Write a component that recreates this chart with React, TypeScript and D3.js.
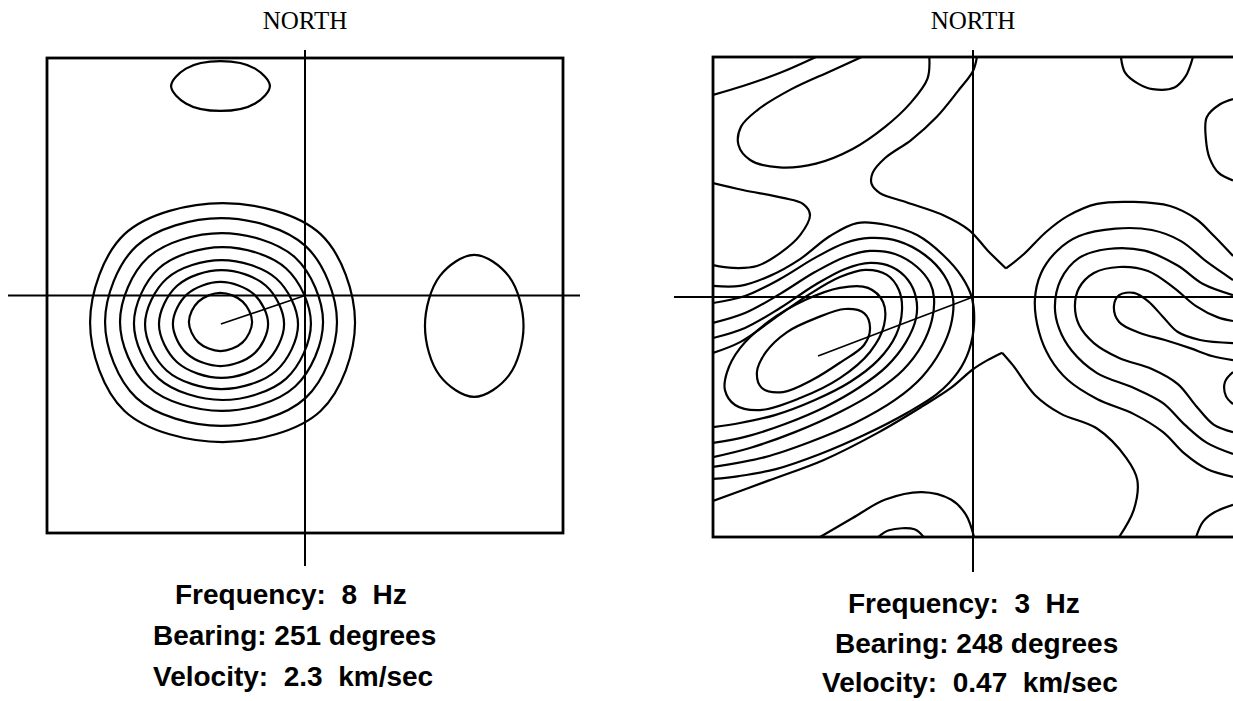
import React from 'react';
import * as d3 from 'd3';

type Pt = [number, number];

// ---- left spectrum (8 Hz) : normalised wavenumber, kx east, ky north ----
// nested rings around the main peak, inner -> outer
const leftRingWest = [-0.45, -0.512, -0.566, -0.62, -0.663, -0.717, -0.775, -0.833];
const leftRingEast = [-0.205, -0.143, -0.081, -0.027, 0.023, 0.07, 0.124, 0.194];
const leftRingNorth = [0.011, 0.057, 0.107, 0.149, 0.204, 0.263, 0.326, 0.389];
const leftRingSouth = [-0.234, -0.297, -0.347, -0.394, -0.44, -0.486, -0.549, -0.617];
// how square each ring is on its diagonals (0.71 = ellipse)
const leftRingSquareness = [0.7, 0.705, 0.71, 0.715, 0.72, 0.725, 0.73, 0.74];
// isolated side lobes: [west, east, north, south]
const leftNorthLobe = [-0.519, -0.136, 0.987, 0.777];
const leftEastLobe = [0.465, 0.847, 0.171, -0.427];
const leftPeak: Pt = [-0.326, -0.12];

// ---- right spectrum (3 Hz) ----
const rightPeak: Pt = [-0.596, -0.246];

const rightCorner: Pt[] = [[-1, 0.842], [-0.885, 0.879], [-0.744, 0.933], [-0.604, 1]];
const rightUpperLobe: Pt[] = [
  [-0.428, 1], [-0.548, 0.941], [-0.702, 0.864], [-0.829, 0.779], [-0.892, 0.71], [-0.902, 0.633],
  [-0.857, 0.571], [-0.744, 0.54], [-0.604, 0.556], [-0.463, 0.617], [-0.337, 0.71], [-0.239, 0.81],
  [-0.175, 0.91], [-0.168, 1],
];
const rightWestLobe: Pt[] = [
  [-1, 0.475], [-0.885, 0.446], [-0.731, 0.413], [-0.654, 0.388], [-0.627, 0.342], [-0.665, 0.258],
  [-0.742, 0.183], [-0.831, 0.129], [-0.923, 0.121], [-1, 0.133],
];
// lowest level: north branch (ends in the saddle notch) and its east continuation
const rightOuterNorthWest: Pt[] = [
  [0.015, 1], [0, 0.942], [-0.058, 0.858], [-0.14, 0.75], [-0.238, 0.654], [-0.338, 0.579],
  [-0.386, 0.517], [-0.39, 0.471], [-0.358, 0.433], [-0.254, 0.394], [-0.112, 0.34], [-0.015, 0.279],
  [0.058, 0.192], [0.127, 0.119],
];
const rightOuterNorthEast: Pt[] = [
  [0.127, 0.119], [0.196, 0.179], [0.281, 0.271], [0.365, 0.338], [0.477, 0.388],
  [0.619, 0.396], [0.758, 0.379], [0.858, 0.325], [0.927, 0.254], [1, 0.171],
];
const rightOuterSouthWest: Pt[] = [
  [-1, -0.85], [-0.787, -0.765], [-0.576, -0.68], [-0.365, -0.565], [-0.197, -0.457], [-0.085, -0.379],
  [0, -0.301], [0.056, -0.263], [0.112, -0.232],
];
const rightOuterSouthEast: Pt[] = [
  [0.112, -0.232], [0.154, -0.285], [0.238, -0.408], [0.337, -0.486],
  [0.477, -0.548], [0.59, -0.671], [0.632, -0.763], [0.618, -0.888], [0.562, -1],
];
const rightMainRing1: Pt[] = [
  [-1, 0.046], [-0.896, 0.046], [-0.781, 0.088], [-0.665, 0.158], [-0.55, 0.254], [-0.446, 0.308],
  [-0.331, 0.3], [-0.215, 0.258], [-0.115, 0.175], [-0.042, 0.083], [-0.004, -0.004], [0.004, -0.113],
  [-0.015, -0.221], [-0.058, -0.313], [-0.138, -0.404], [-0.254, -0.483], [-0.419, -0.575],
  [-0.588, -0.654], [-0.758, -0.717], [-0.9, -0.746], [-1, -0.758],
];
const rightMainRing2: Pt[] = [
  [-1, -0.025], [-0.877, 0.004], [-0.742, 0.075], [-0.608, 0.163], [-0.492, 0.225], [-0.396, 0.246],
  [-0.288, 0.233], [-0.185, 0.175], [-0.112, 0.092], [-0.077, -0.004], [-0.085, -0.117], [-0.123, -0.221],
  [-0.196, -0.333], [-0.3, -0.429], [-0.454, -0.525], [-0.627, -0.604], [-0.8, -0.667], [-1, -0.708],
];
const rightMainRing3: Pt[] = [
  [-1, -0.108], [-0.877, -0.067], [-0.742, 0.013], [-0.608, 0.104], [-0.492, 0.167], [-0.396, 0.192],
  [-0.3, 0.179], [-0.215, 0.125], [-0.165, 0.058], [-0.15, -0.004], [-0.158, -0.096], [-0.196, -0.2],
  [-0.269, -0.304], [-0.377, -0.396], [-0.512, -0.479], [-0.685, -0.563], [-0.858, -0.629], [-1, -0.667],
];
const rightMainRing4: Pt[] = [
  [-1, -0.171], [-0.877, -0.129], [-0.742, -0.046], [-0.608, 0.05], [-0.492, 0.117], [-0.396, 0.142],
  [-0.312, 0.125], [-0.25, 0.071], [-0.219, -0.004], [-0.219, -0.088], [-0.258, -0.188], [-0.331, -0.288],
  [-0.435, -0.375], [-0.569, -0.458], [-0.723, -0.529], [-0.877, -0.583], [-1, -0.608],
];
const rightMainRing5: Pt[] = [
  [-1, -0.233], [-0.896, -0.188], [-0.762, -0.088], [-0.627, 0.013], [-0.512, 0.083], [-0.415, 0.113],
  [-0.331, 0.092], [-0.285, 0.029], [-0.273, -0.054], [-0.296, -0.158], [-0.365, -0.263], [-0.473, -0.354],
  [-0.608, -0.429], [-0.762, -0.492], [-0.896, -0.525], [-1, -0.542],
];
const rightMainRing6: Pt[] = [
  [-0.946, -0.313], [-0.896, -0.213], [-0.788, -0.104], [-0.646, -0.013], [-0.512, 0.038], [-0.404, 0.038],
  [-0.346, -0.021], [-0.342, -0.117], [-0.396, -0.229], [-0.512, -0.338], [-0.665, -0.421], [-0.819, -0.471],
  [-0.915, -0.45], [-0.954, -0.388],
];
const rightMainRing7: Pt[] = [
  [-0.831, -0.313], [-0.796, -0.229], [-0.715, -0.146], [-0.604, -0.088], [-0.492, -0.05], [-0.419, -0.067],
  [-0.396, -0.129], [-0.419, -0.2], [-0.508, -0.271], [-0.619, -0.346], [-0.731, -0.396], [-0.812, -0.379],
];
const rightEastRing1: Pt[] = [
  [1, 0.071], [0.9, 0.146], [0.8, 0.233], [0.688, 0.279], [0.548, 0.285], [0.408, 0.254], [0.323, 0.192],
  [0.262, 0.1], [0.238, -0.013], [0.254, -0.146], [0.296, -0.254], [0.365, -0.346], [0.477, -0.425],
  [0.619, -0.488], [0.731, -0.563], [0.815, -0.654], [0.9, -0.717], [1, -0.75],
];
const rightEastRing2: Pt[] = [
  [1, 0.008], [0.885, 0.054], [0.787, 0.131], [0.66, 0.193], [0.519, 0.2], [0.408, 0.163], [0.337, 0.071],
  [0.315, -0.038], [0.331, -0.131], [0.38, -0.224], [0.477, -0.317], [0.619, -0.379], [0.731, -0.442],
  [0.815, -0.533], [0.9, -0.608], [1, -0.654],
];
const rightEastRing3: Pt[] = [
  [1, -0.1], [0.942, -0.085], [0.858, -0.038], [0.773, 0.038], [0.673, 0.108], [0.562, 0.125], [0.465, 0.1],
  [0.408, 0.038], [0.392, -0.038], [0.408, -0.117], [0.465, -0.192], [0.562, -0.254], [0.688, -0.3],
  [0.788, -0.363], [0.858, -0.454], [0.927, -0.533], [1, -0.563],
];
const rightEastRing4: Pt[] = [
  [1, -0.192], [0.873, -0.179], [0.788, -0.146], [0.731, -0.083], [0.673, -0.017], [0.619, 0.017],
  [0.562, 0.008], [0.542, -0.038], [0.562, -0.104], [0.642, -0.15], [0.738, -0.179], [0.835, -0.213],
  [0.919, -0.246], [1, -0.263],
];
const rightEastBump: Pt[] = [[1, -0.313], [0.969, -0.354], [0.973, -0.413], [1, -0.446]];
const rightNorthLobe: Pt[] = [
  [0.569, 1], [0.585, 0.935], [0.635, 0.889], [0.691, 0.866], [0.775, 0.873], [0.818, 0.92], [0.846, 1],
];
const rightNorthEastLobe: Pt[] = [
  [1, 0.825], [0.95, 0.803], [0.899, 0.749], [0.896, 0.656], [0.91, 0.579], [0.945, 0.517], [1, 0.486],
];
const rightCornerLobe: Pt[] = [[0.858, -1], [0.885, -0.936], [0.927, -0.898], [1, -0.866]];
const rightSouthLobe: Pt[] = [
  [-0.588, -1], [-0.463, -0.921], [-0.337, -0.844], [-0.196, -0.813], [-0.085, -0.844], [-0.028, -0.906],
  [0.004, -1],
];
const rightSouthBump: Pt[] = [[-0.365, -1], [-0.323, -0.972], [-0.225, -0.968], [-0.19, -1]];

const leftLabels = ['Frequency:  8  Hz', 'Bearing: 251 degrees', 'Velocity:  2.3  km/sec'];
const rightLabels = ['Frequency:  3  Hz', 'Bearing: 248 degrees', 'Velocity:  0.47  km/sec'];

interface Contour {
  pts: Pt[];
  closed: boolean;
}

// eight points round a ring from its extents; diagonals pushed out by `sq`
const ringPts = (w: number, e: number, n: number, s: number, sq: number): Pt[] => {
  const cx = (w + e) / 2;
  const cy = (n + s) / 2;
  const rx = (e - w) / 2;
  const ry = (n - s) / 2;
  return [
    [w, cy], [cx - rx * sq, cy + ry * sq], [cx, n], [cx + rx * sq, cy + ry * sq],
    [e, cy], [cx + rx * sq, cy - ry * sq], [cx, s], [cx - rx * sq, cy - ry * sq],
  ];
};

interface PanelProps {
  id: string;
  box: { left: number; right: number; top: number; bottom: number };
  boxExtra: number;
  hExtent: [number, number];
  vExtent: [number, number];
  contours: Contour[];
  peak: Pt;
  labels: string[];
  labelX: number[];
  labelY: number[];
}

const Panel: React.FC<PanelProps> = ({ id, box, boxExtra, hExtent, vExtent, contours, peak, labels, labelX, labelY }) => {
  const x = d3.scaleLinear().domain([-1, 1]).range([box.left, box.right]);
  const y = d3.scaleLinear().domain([-1, 1]).range([box.bottom, box.top]);

  const open = d3.line<Pt>().x(d => x(d[0])).y(d => y(d[1])).curve(d3.curveCatmullRom.alpha(0.5));
  const closed = d3.line<Pt>().x(d => x(d[0])).y(d => y(d[1])).curve(d3.curveCatmullRomClosed.alpha(0.5));
  const bw = box.right - box.left + boxExtra;

  return (
    <g>
      <defs>
        <clipPath id={id}>
          <rect x={box.left} y={box.top} width={bw} height={box.bottom - box.top} />
        </clipPath>
      </defs>
      <text x={x(0)} y={29} textAnchor="middle" fontFamily="'Liberation Serif', 'Times New Roman', serif" fontSize={25}>
        NORTH
      </text>
      <rect x={box.left} y={box.top} width={bw} height={box.bottom - box.top}
        fill="none" stroke="#000" strokeWidth={2.8} />
      <g clipPath={`url(#${id})`} fill="none" stroke="#000" strokeWidth={2.2} strokeLinejoin="round">
        {contours.map((c, i) => (
          <path key={i} d={(c.closed ? closed(c.pts) : open(c.pts)) || ''} />
        ))}
      </g>
      <line x1={hExtent[0]} x2={hExtent[1]} y1={y(0)} y2={y(0)} stroke="#000" strokeWidth={2} />
      <line x1={x(0)} x2={x(0)} y1={vExtent[0]} y2={vExtent[1]} stroke="#000" strokeWidth={2} />
      <line x1={x(0)} y1={y(0)} x2={x(peak[0])} y2={y(peak[1])} stroke="#000" strokeWidth={1.6} />
      {labels.map((t, i) => (
        <text key={t} x={labelX[i]} y={labelY[i]} fontFamily="'Liberation Sans', Arial, sans-serif"
          fontWeight="bold" fontSize={28} style={{ whiteSpace: 'pre' }}>
          {t}
        </text>
      ))}
    </g>
  );
};

const App: React.FC = () => {
  const leftContours: Contour[] = [
    ...leftRingWest.map(
      (w, i): Contour => ({
        pts: ringPts(w, leftRingEast[i], leftRingNorth[i], leftRingSouth[i], leftRingSquareness[i]),
        closed: true,
      }),
    ),
    { pts: ringPts(leftNorthLobe[0], leftNorthLobe[1], leftNorthLobe[2], leftNorthLobe[3], 0.7), closed: true },
    { pts: ringPts(leftEastLobe[0], leftEastLobe[1], leftEastLobe[2], leftEastLobe[3], 0.7), closed: true },
  ];

  const rightOpen = [
    rightCorner, rightUpperLobe, rightWestLobe, rightOuterNorthWest, rightOuterNorthEast,
    rightOuterSouthWest, rightOuterSouthEast, rightMainRing1, rightMainRing2, rightMainRing3,
    rightMainRing4, rightMainRing5, rightEastRing1, rightEastRing2, rightEastRing3, rightEastRing4,
    rightEastBump, rightNorthLobe, rightNorthEastLobe, rightCornerLobe, rightSouthLobe, rightSouthBump,
  ];
  const rightContours: Contour[] = [
    ...rightOpen.map((pts): Contour => ({ pts, closed: false })),
    { pts: rightMainRing6, closed: true },
    { pts: rightMainRing7, closed: true },
  ];

  return (
    <svg width={1233} height={701} style={{ position: 'absolute', left: 0, top: 0, background: '#fff' }}>
      <rect width={1233} height={701} fill="#fff" />
      <Panel
        id="clipLeft"
        box={{ left: 47, right: 563, top: 58, bottom: 533 }}
        boxExtra={0}
        hExtent={[8, 580]}
        vExtent={[50, 566]}
        contours={leftContours}
        peak={leftPeak}
        labels={leftLabels}
        labelX={[175, 153, 153]}
        labelY={[604, 645, 686]}
      />
      <Panel
        id="clipRight"
        box={{ left: 713, right: 1233, top: 57, bottom: 537 }}
        boxExtra={4}
        hExtent={[674, 1233]}
        vExtent={[50, 572]}
        contours={rightContours}
        peak={rightPeak}
        labels={rightLabels}
        labelX={[848, 835, 822]}
        labelY={[613, 653, 692]}
      />
    </svg>
  );
};

export default App;
